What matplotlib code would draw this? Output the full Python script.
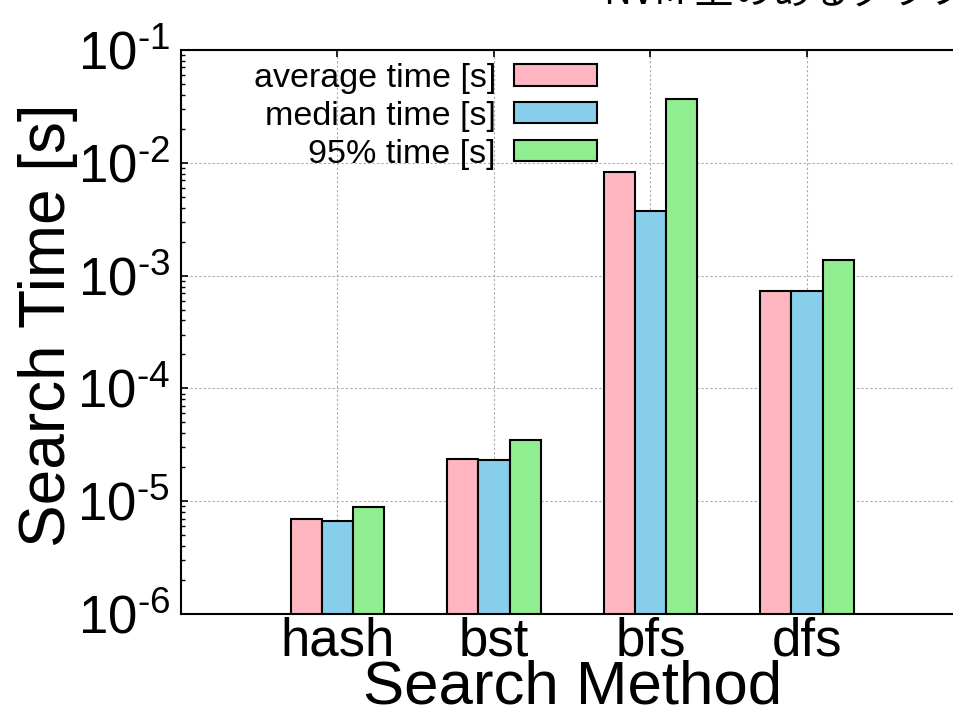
import matplotlib
matplotlib.use("Agg")
import matplotlib.pyplot as plt
import numpy as np
from matplotlib.ticker import LogLocator, FixedLocator, NullFormatter

plt.rcParams['font.family'] = ['Liberation Sans', 'DejaVu Sans']
plt.rcParams['mathtext.fontset'] = 'custom'
plt.rcParams['mathtext.rm'] = 'Liberation Sans'
plt.rcParams['mathtext.it'] = 'Liberation Sans:italic'
plt.rcParams['mathtext.bf'] = 'Liberation Sans:bold'

methods = ["hash", "bst", "bfs", "dfs"]
average_time = [6.95e-6, 2.38e-5, 8.3e-3, 7.3e-4]
median_time = [6.72e-6, 2.30e-5, 3.74e-3, 7.3e-4]
p95_time = [8.9e-6, 3.5e-5, 3.7e-2, 1.37e-3]
series_labels = ["average time [s]", "median time [s]", "95% time [s]"]
series_colors = ["#FFB6C1", "#87CEEB", "#90EE90"]
ytick_values = [1e-6, 1e-5, 1e-4, 1e-3, 1e-2, 1e-1]
ytick_labels = [r"$10^{\text{-}6}$", r"$10^{\text{-}5}$", r"$10^{\text{-}4}$",
                r"$10^{\text{-}3}$", r"$10^{\text{-}2}$", r"$10^{\text{-}1}$"]
title_text = "NVM 上のあるグラフでの検索時間"

W, H = 954, 708
fig = plt.figure(figsize=(W / 100, H / 100), dpi=100)
ax = fig.add_axes([181 / W, (H - 614) / H, 782.5 / W, 564 / H])

x = np.arange(1, len(methods) + 1)
bw = 0.2
for i, (vals, lab, col) in enumerate(zip([average_time, median_time, p95_time], series_labels, series_colors)):
    ax.bar(x + (i - 1) * bw, vals, width=bw, color=col, edgecolor="black", linewidth=1.5, label=lab, zorder=2)

ax.set_yscale("log")
ax.set_ylim(1e-6, 1e-1)
ax.set_xlim(0, 5)
ax.yaxis.set_major_locator(FixedLocator(ytick_values))
ax.set_yticklabels(ytick_labels, fontsize=38)
ax.yaxis.set_minor_locator(LogLocator(base=10, subs=np.arange(2, 10), numticks=20))
ax.yaxis.set_minor_formatter(NullFormatter())
ax.set_xticks(x)
ax.set_xticklabels(methods, fontsize=38)

ax.set_axisbelow(True)
ax.grid(True, which="major", linestyle=(0, (2, 2)), color="#aaaaaa", linewidth=0.8)

for s in ax.spines.values():
    s.set_linewidth(1.5)
ax.tick_params(axis="y", which="major", direction="in", length=5, width=1.2, pad=8, left=True, right=True)
ax.tick_params(axis="y", which="minor", direction="in", length=3, width=1.0, left=True, right=True)
ax.tick_params(axis="x", which="major", direction="in", length=5, width=1.2, pad=2, top=True, bottom=False)

fig.text(48 / W, 1 - 325 / H, "Search Time [s]", rotation=90, ha="center", va="center", fontsize=46)
fig.text(573 / W, 1 - 704 / H, "Search Method", ha="center", va="baseline", fontsize=44.5)
fig.text(604 / W, 1 - 5 / H, title_text, ha="left", va="baseline", fontsize=28,
         family=["Noto Sans CJK JP", "DejaVu Sans"])

ax.legend(loc="upper right", bbox_to_anchor=(597 / W, 1 - 63 / H), bbox_transform=fig.transFigure,
          frameon=False, markerfirst=False, fontsize=24.5, handlelength=2.44, handleheight=0.59,
          handletextpad=0.53, labelspacing=0.2, borderpad=0, borderaxespad=0)

fig.savefig("out.png", dpi=100)
